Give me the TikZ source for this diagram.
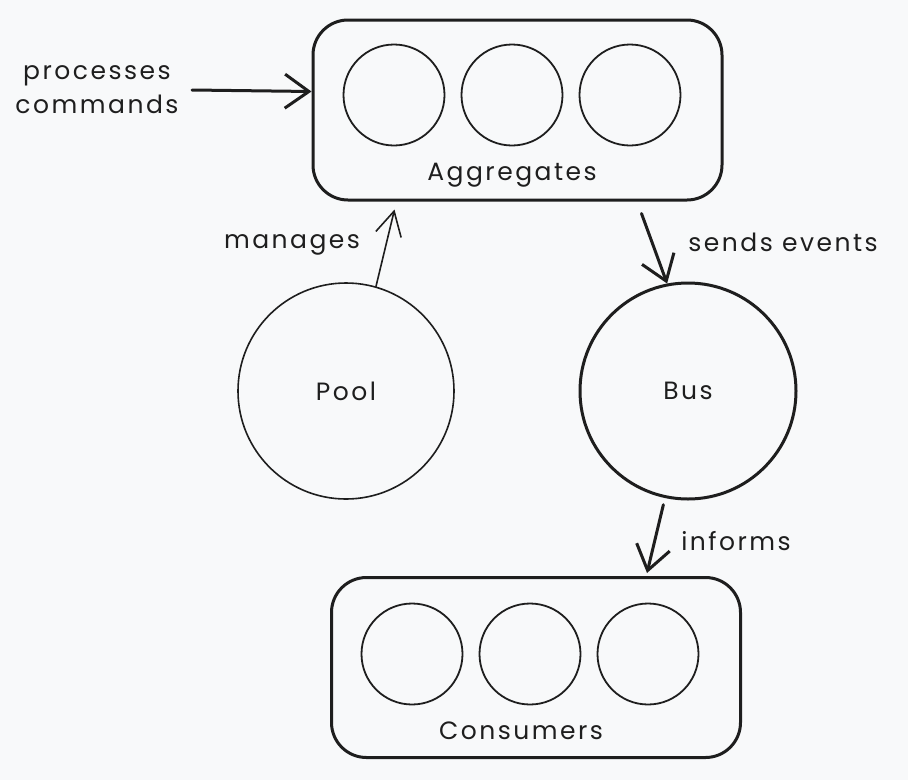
\documentclass[tikz,border=0pt]{standalone}
\usepackage{fontspec}
\setmainfont{Poppins}[LetterSpace = 10]
\usetikzlibrary{arrows.meta, calc}
\definecolor{canvas}{HTML}{F8F9FA}
\definecolor{ink}{HTML}{1E1E1E}

\begin{document}
\begin{tikzpicture}[x = 1pt, y = -1pt,
    every node/.style = {text = ink, font = \fontsize{25}{34}\selectfont},
    group/.style = {draw = ink, line width = 3pt, rounded corners = 35pt,
        minimum width = 409pt, minimum height = 180pt, inner sep = 0pt},
    member/.style = {shape = circle, draw = ink, line width = 1.8pt,
        minimum size = 101pt, inner sep = 0pt},
    hub/.style = {shape = circle, draw = ink, minimum size = 216pt, inner sep = 0pt},
    label/.style = {inner sep = 0pt},
    bold arrow/.style = {draw = ink, line width = 3pt, line cap = round,
        -{Straight Barb[length = 24pt, width = 34pt, line width = 3pt]}},
    thin arrow/.style = {draw = ink, line width = 1.6pt, line cap = round,
        -{Straight Barb[length = 24pt, width = 26pt, line width = 1.6pt]}}]
        \useasboundingbox[fill = canvas] (0, 0) rectangle (908, 780);

        % aggregates
        \node[group] (agg) at (517.5, 110) {};
        \node[member] (agg1) at (394, 95) {};
        \node[member] (agg2) at (512, 95) {};
        \node[member] (agg3) at (630, 95) {};
        \node[label] (aggtext) at (512, 175) {Aggregates};

        % consumers
        \node[group] (cons) at (536, 667.5) {};
        \node[member] (cons1) at (412, 654) {};
        \node[member] (cons2) at (530, 654) {};
        \node[member] (cons3) at (648, 654) {};
        \node[label] (constext) at (521, 731) {Consumers};

        % pool and bus
        \node[hub, line width = 1.6pt] (pool) at (346, 391) {Pool};
        \node[hub, line width = 3pt] (bus) at (688, 391) {Bus};

        % labels
        \node[label, align = center] (cmd) at (97, 90) {processes\\commands};
        \node[label] (mng) at (292, 245) {manages};
        \node[label] (snd) at (783, 242) {sends events};
        \node[label] (inf) at (736, 541) {informs};

        % arrows
        \draw[bold arrow] (192, 90) -- ($(agg.south west) + (0, -110)$);
        \draw[thin arrow] (pool.74) -- ($(agg.south west) + (83, 8)$);
        \draw[bold arrow] ($(agg.south east) + (-82, 12)$) -- (bus.101);
        \draw[bold arrow] ($(bus.257) + (0, 7)$) -- ($(cons.north west) + (317, -3)$);
\end{tikzpicture}
\end{document}
